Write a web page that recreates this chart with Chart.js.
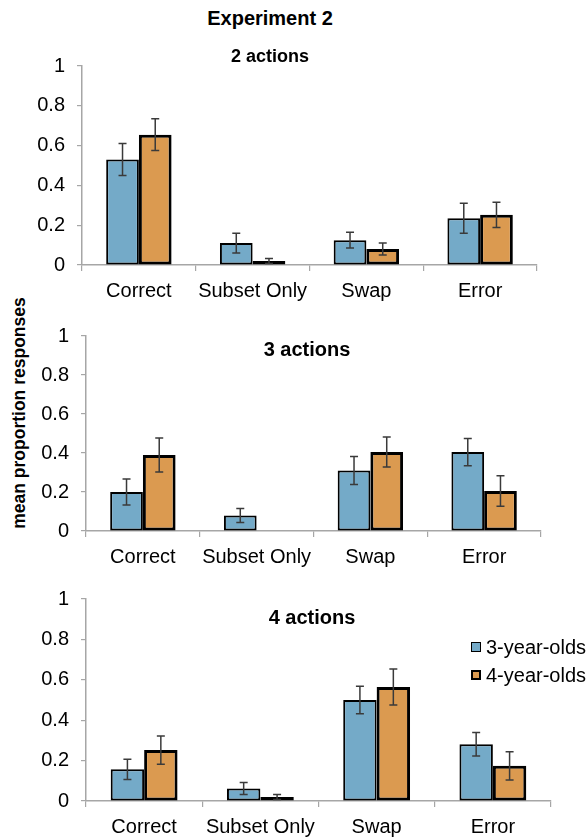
<!DOCTYPE html>
<html>
<head>
<meta charset="utf-8">
<script src="https://cdn.jsdelivr.net/npm/chart.js@4.4.1/dist/chart.umd.min.js"></script>
<style>
  html,body{margin:0;padding:0;background:#fff;}
  body{width:588px;height:837px;position:relative;overflow:hidden;font-family:"Liberation Sans",Arial,sans-serif;color:#000;}
  canvas{position:absolute;left:0;}
  .txt{position:absolute;transform:translate(-50%,-50%);white-space:nowrap;line-height:1;font-weight:bold;}
  .ylab{position:absolute;left:20px;top:413px;transform:translate(-50%,-50%) rotate(-90deg);white-space:nowrap;font-weight:bold;font-size:17.5px;line-height:1;}
  .legend{position:absolute;left:471px;top:633px;font-size:20px;}
  .legend div{height:28px;display:flex;align-items:center;}
  .legend span.box{display:inline-block;width:10px;height:10px;box-sizing:border-box;margin-right:5px;}
</style>
</head>
<body>
<div class="txt" style="left:270px;top:18px;font-size:20px">Experiment 2</div>
<div class="ylab">mean proportion responses</div>

<canvas id="c1" width="588" height="259" style="top:42px"></canvas>
<canvas id="c2" width="588" height="255" style="top:312px"></canvas>
<canvas id="c3" width="588" height="262" style="top:575px"></canvas>

<div class="txt" style="left:270px;top:56px;font-size:18px">2 actions</div>
<div class="txt" style="left:307px;top:349px;font-size:20px">3 actions</div>
<div class="txt" style="left:312px;top:617px;font-size:20px">4 actions</div>

<div class="legend" id="legend"></div>

<script>
// data
const categories=['Correct','Subset Only','Swap','Error']
const groups=['3-year-olds','4-year-olds']
const yTicks=[0,0.2,0.4,0.6,0.8,1]

const two3=[0.53,0.11,0.125,0.235]
const two3Err=[0.08,0.05,0.04,0.075]
const two4=[0.655,0.02,0.08,0.252]
const two4Err=[0.08,0.013,0.03,0.063]

const three3=[0.20,0.08,0.31,0.405]
const three3Err=[0.067,0.036,0.072,0.07]
const three4=[0.39,0,0.405,0.205]
const three4Err=[0.087,null,0.077,0.078]

const four3=[0.157,0.062,0.50,0.281]
const four3Err=[0.05,0.03,0.068,0.058]
const four4=[0.252,0.02,0.564,0.174]
const four4Err=[0.07,0.012,0.089,0.07]

const blue='#74AAC8'
const orange='#DB9A50'
const axisGrey='#A6A6A6'
const font="'Liberation Sans', Arial, sans-serif"

// error bars drawn from the y scale
const errorBars={
    id:'errorBars',
    afterDatasetsDraw(chart){
        const ctx=chart.ctx
        const y=chart.scales.y
        ctx.save()
        ctx.strokeStyle='#3a3a3a'
        ctx.lineWidth=1.5
        chart.data.datasets.forEach((ds,i)=>{
            const meta=chart.getDatasetMeta(i)
            meta.data.forEach((bar,j)=>{
                const e=ds.errors[j]
                if(e==null) return
                const v=ds.data[j]
                const top=y.getPixelForValue(v+e)
                const bot=y.getPixelForValue(Math.max(v-e,0))
                ctx.beginPath()
                ctx.moveTo(bar.x,top);ctx.lineTo(bar.x,bot)
                ctx.moveTo(bar.x-4,top);ctx.lineTo(bar.x+4,top)
                ctx.moveTo(bar.x-4,bot);ctx.lineTo(bar.x+4,bot)
                ctx.stroke()
            })
        })
        ctx.restore()
    }
}

function makePanel(id,d3,e3,d4,e4,left,right){
    new Chart(document.getElementById(id).getContext('2d'),{
        type:'bar',
        data:{
            labels:categories,
            datasets:[
                {label:groups[0],data:d3,errors:e3,backgroundColor:blue,borderColor:'#000',borderWidth:2,borderSkipped:false},
                {label:groups[1],data:d4,errors:e4,backgroundColor:orange,borderColor:'#000',borderWidth:3,borderSkipped:false}
            ]
        },
        options:{
            responsive:false,
            animation:false,
            categoryPercentage:0.575,
            barPercentage:1,
            layout:{padding:{top:0,right:588-right,bottom:0,left:0}},
            plugins:{legend:{display:false},tooltip:{enabled:false}},
            scales:{
                x:{
                    afterFit:s=>{s.height=36},
                    grid:{drawOnChartArea:false,color:axisGrey,tickLength:6,lineWidth:1.2},
                    border:{color:axisGrey,width:1.5},
                    ticks:{color:'#000',font:{family:font,size:20},padding:8,maxRotation:0,autoSkip:false}
                },
                y:{
                    min:0,max:1,
                    afterFit:s=>{s.width=left},
                    afterBuildTicks:s=>{s.ticks=yTicks.map(v=>({value:v}))},
                    grid:{drawOnChartArea:false,color:axisGrey,tickLength:5,lineWidth:1.2},
                    border:{color:axisGrey,width:1.5},
                    ticks:{color:'#000',font:{family:font,size:20},padding:12,callback:v=>String(v)}
                }
            }
        },
        plugins:[errorBars]
    })
}

makePanel('c1',two3,two3Err,two4,two4Err,82,537)
makePanel('c2',three3,three3Err,three4,three4Err,86,541)
makePanel('c3',four3,four3Err,four4,four4Err,86,551)

// legend
const legend=document.getElementById('legend')
const legendStyle=[[blue,'1.5px'],[orange,'2.5px']]
groups.forEach((g,i)=>{
    const row=document.createElement('div')
    row.innerHTML='<span class="box" style="background:'+legendStyle[i][0]+';border:'+legendStyle[i][1]+' solid #000"></span>'+g
    legend.appendChild(row)
})
</script>
</body>
</html>
